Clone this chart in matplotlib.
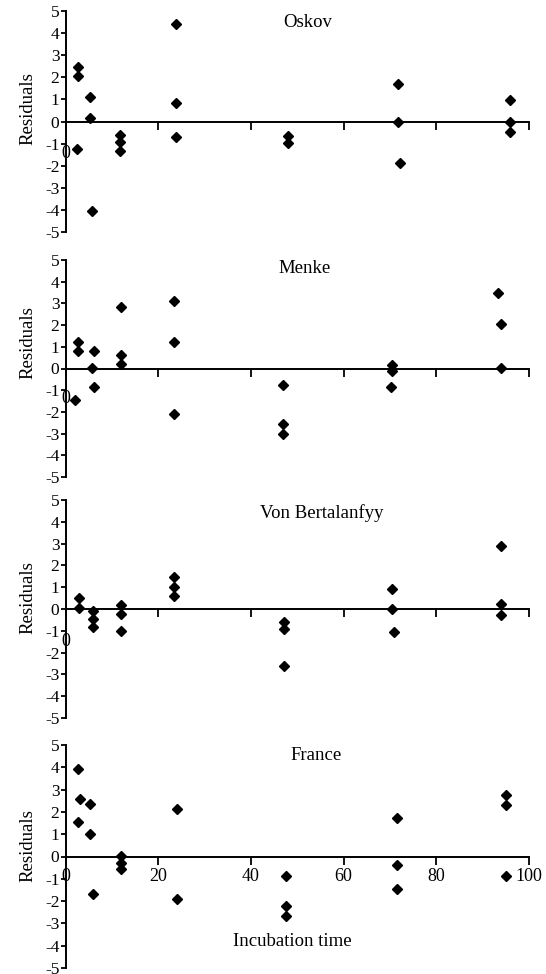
import numpy as np
import matplotlib
matplotlib.use("Agg")
import matplotlib.pyplot as plt

plt.rcParams['font.family'] = ['Liberation Serif', 'DejaVu Serif']
plt.rcParams['axes.unicode_minus'] = False

# residuals: (incubation time, residual)
oskov_t = [2.6, 2.6, 2.4, 5.2, 5.2, 5.7, 11.8, 11.8, 11.8, 23.8, 23.8, 23.8,
           48.0, 48.0, 71.8, 71.8, 72.2, 96.0, 96.0, 96.0]
oskov_r = [2.48, 2.06, -1.24, 1.12, 0.16, -4.04, -0.6, -0.93, -1.33, 4.4, 0.85, -0.72,
           -0.64, -0.96, 1.70, 0.0, -1.86, 0.97, 0.0, -0.49]

menke_t = [2.6, 2.6, 2.0, 6.1, 5.6, 6.1, 11.9, 11.9, 11.9, 23.4, 23.4, 23.4,
           47.0, 47.0, 47.0, 70.5, 70.5, 70.2, 93.4, 94.0, 94.0]
menke_r = [1.23, 0.80, -1.47, 0.80, 0.03, -0.86, 2.84, 0.60, 0.21, 3.10, 1.23, -2.09,
           -0.78, -2.55, -3.01, 0.15, -0.12, -0.86, 3.48, 2.03, 0.03]

vonb_t = [2.9, 2.9, 6.0, 6.0, 6.0, 11.9, 11.9, 11.9, 23.4, 23.4, 23.4,
          47.2, 47.2, 47.2, 70.5, 70.5, 70.8, 94.0, 94.0, 94.0]
vonb_r = [0.50, 0.06, -0.08, -0.44, -0.81, 0.18, -0.24, -0.99, 1.45, 1.02, 0.60,
          -0.61, -0.92, -2.6, 0.90, -0.01, -1.07, 2.89, 0.21, -0.28]

france_t = [2.6, 3.1, 2.6, 5.2, 5.2, 6.0, 11.9, 11.9, 11.9, 24.0, 24.0,
            47.5, 47.5, 47.5, 71.6, 71.6, 71.6, 95.1, 95.1, 95.1]
france_r = [3.93, 2.56, 1.56, 2.36, 1.0, -1.70, 0.04, -0.28, -0.58, 2.14, -1.90,
            -0.87, -2.2, -2.65, 1.74, -0.37, -1.45, 2.78, 2.32, -0.87]

titles = ["Oskov", "Menke", "Von Bertalanfyy", "France"]
times = [oskov_t, menke_t, vonb_t, france_t]
resids = [oskov_r, menke_r, vonb_r, france_r]
x_ticks = [0, 20, 40, 60, 80, 100]
y_ticks = [5, 4, 3, 2, 1, 0, -1, -2, -3, -4, -5]

W, H = 546, 974
fig = plt.figure(figsize=(W / 100, H / 100), dpi=100)

# pixel extents of each panel (top, bottom of y range 5..-5)
panels = [(11, 232), (260, 477), (500, 718), (745, 968)]
left, right = 65.7, 529
title_pos = [(52.3, 4.46), (51.5, 4.63), (55.3, 4.4), (54.0, 4.55)]
label_y = [0.56, 0.62, 0.553, 0.547]
zero_y = [-1.43, -1.4, -1.5]

for i, (top, bot) in enumerate(panels):
    ax = fig.add_axes([left / W, 1 - bot / H, (right - left) / W, (bot - top) / H])
    ax.plot(times[i], resids[i], 'D', color='black', ms=5.5, mec='black')
    ax.set_xlim(0, 100)
    ax.set_ylim(-5, 5)
    ax.spines['top'].set_visible(False)
    ax.spines['right'].set_visible(False)
    ax.spines['bottom'].set_position(('data', 0))
    ax.spines['bottom'].set_linewidth(1.4)
    ax.spines['left'].set_linewidth(1.4)
    ax.set_yticks(y_ticks)
    ax.set_xticks(x_ticks)
    ax.tick_params(axis='y', direction='out', length=3.5, width=1.3, labelsize=12.5, pad=1)
    ax.tick_params(axis='x', direction='out', length=6, width=1.3, labelsize=13, pad=2)
    if i == 3:
        ax.set_xticklabels([str(t) for t in x_ticks])
        ax.text(49.0, -3.8, "Incubation time", ha='center', va='center', fontsize=13.5)
    else:
        ax.set_xticklabels([])
        ax.text(0, zero_y[i], "0", ha='center', va='center', fontsize=13, clip_on=False)
    ax.set_ylabel("Residuals", fontsize=13.5)
    ax.yaxis.set_label_coords(-0.064, label_y[i])
    ax.text(title_pos[i][0], title_pos[i][1], titles[i], ha='center', va='center', fontsize=13.5)

fig.savefig("out.png", dpi=100)
